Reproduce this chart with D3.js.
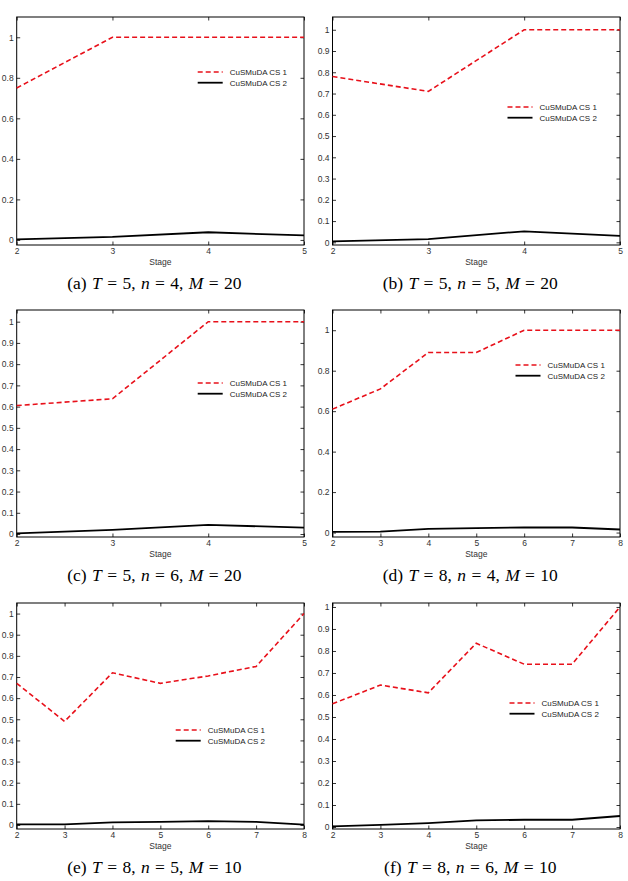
<!DOCTYPE html>
<html>
<head>
<meta charset="utf-8">
<script src="https://cdn.jsdelivr.net/npm/d3@7"></script>
<style>
  body { margin: 0; background: #fff; }
  .tick text { font-family: "Liberation Sans", Arial, sans-serif; font-size: 8.5px; fill: #333; }
  .caption { font-family: "Liberation Serif", "DejaVu Serif", serif; font-size: 17.5px; fill: #000; word-spacing: 1px; }
</style>
</head>
<body>
<div id="chart"></div>
<script>
// Data
const stages5 = [2, 3, 4, 5];
const stages8 = [2, 3, 4, 5, 6, 7, 8];
const seriesNames = ["CuSMuDA CS 1", "CuSMuDA CS 2"];

const cs1A = [0.75, 1, 1, 1];
const cs2A = [0.003, 0.015, 0.038, 0.022];
const cs1B = [0.78, 0.71, 1, 1];
const cs2B = [0.005, 0.015, 0.052, 0.03];
const cs1C = [0.605, 0.637, 1, 1];
const cs2C = [0.003, 0.02, 0.043, 0.03];
const cs1D = [0.61, 0.71, 0.89, 0.89, 1, 1, 1];
const cs2D = [0.003, 0.005, 0.018, 0.022, 0.025, 0.025, 0.015];
const cs1E = [0.67, 0.49, 0.72, 0.67, 0.705, 0.75, 1.0];
const cs2E = [0.003, 0.003, 0.012, 0.015, 0.018, 0.015, 0.002];
const cs1F = [0.56, 0.645, 0.61, 0.835, 0.74, 0.74, 1.0];
const cs2F = [0.003, 0.01, 0.018, 0.03, 0.033, 0.033, 0.05];

const yTicks02 = [0, 0.2, 0.4, 0.6, 0.8, 1];
const yTicks01 = [0, 0.1, 0.2, 0.3, 0.4, 0.5, 0.6, 0.7, 0.8, 0.9, 1];

const captionLetters = ["a", "b", "c", "d", "e", "f"];
const captionT = [5, 5, 5, 8, 8, 8];
const captionN = [4, 5, 6, 4, 5, 6];
const captionM = [20, 20, 20, 10, 10, 10];

const panels = [
  { stages: stages5, cs1: cs1A, cs2: cs2A, yTicks: yTicks02, yDomain: [-0.025, 1.1] },
  { stages: stages5, cs1: cs1B, cs2: cs2B, yTicks: yTicks01, yDomain: [-0.0125, 1.06] },
  { stages: stages5, cs1: cs1C, cs2: cs2C, yTicks: yTicks01, yDomain: [-0.014, 1.055] },
  { stages: stages8, cs1: cs1D, cs2: cs2D, yTicks: yTicks02, yDomain: [-0.022, 1.1] },
  { stages: stages8, cs1: cs1E, cs2: cs2E, yTicks: yTicks01, yDomain: [-0.019, 1.05] },
  { stages: stages8, cs1: cs1F, cs2: cs2F, yTicks: yTicks01, yDomain: [-0.009, 1.018] }
];

// layout
const width = 628;
const height = 881;
const colLeft = [16.7, 332.5];
const colRight = [304, 620];
const rowTop = [17, 310, 603];
const rowBottom = [245, 537, 829];
// legend anchor, relative to the plot's top-left corner
const legendPos = [[181, 55], [175, 90], [181, 73], [183, 55], [159, 127], [177, 100]];

const svg = d3.select("#chart")
  .append("svg")
  .attr("width", width)
  .attr("height", height)
  .style("background", "#fff");

panels.forEach(function(p, i) {
  const col = i % 2;
  const row = Math.floor(i / 2);
  const left = colLeft[col];
  const right = colRight[col];
  const top = rowTop[row];
  const bottom = rowBottom[row];

  const x = d3.scaleLinear()
    .domain([p.stages[0], p.stages[p.stages.length - 1]])
    .range([left, right]);
  const y = d3.scaleLinear()
    .domain(p.yDomain)
    .range([bottom, top]);

  const g = svg.append("g");

  // axes with inward ticks on all four sides
  g.append("g")
    .attr("transform", "translate(0," + bottom + ")")
    .call(d3.axisBottom(x).tickValues(p.stages).tickSizeInner(-3.5).tickSizeOuter(0).tickPadding(3).tickFormat(d3.format("d")))
    .call(s => s.select(".domain").remove());
  g.append("g")
    .attr("transform", "translate(0," + top + ")")
    .call(d3.axisTop(x).tickValues(p.stages).tickSizeInner(-3.5).tickSizeOuter(0).tickFormat(""))
    .call(s => s.select(".domain").remove());
  g.append("g")
    .attr("transform", "translate(" + left + ",0)")
    .call(d3.axisLeft(y).tickValues(p.yTicks).tickSizeInner(-3.5).tickSizeOuter(0).tickPadding(3).tickFormat(d3.format("~g")))
    .call(s => s.select(".domain").remove());
  g.append("g")
    .attr("transform", "translate(" + right + ",0)")
    .call(d3.axisRight(y).tickValues(p.yTicks).tickSizeInner(-3.5).tickSizeOuter(0).tickFormat(""))
    .call(s => s.select(".domain").remove());

  g.selectAll(".tick line").attr("stroke", "#000").attr("stroke-width", 0.8);

  // frame
  g.append("rect")
    .attr("x", left)
    .attr("y", top)
    .attr("width", right - left)
    .attr("height", bottom - top)
    .attr("fill", "none")
    .attr("stroke", "#000")
    .attr("stroke-width", 1);

  const line = d3.line()
    .x((d, k) => x(p.stages[k]))
    .y(d => y(d));

  g.append("path")
    .datum(p.cs2)
    .attr("d", line)
    .attr("fill", "none")
    .attr("stroke", "#000")
    .attr("stroke-width", 1.8);

  g.append("path")
    .datum(p.cs1)
    .attr("d", line)
    .attr("fill", "none")
    .attr("stroke", "#e8101a")
    .attr("stroke-width", 1.6)
    .attr("stroke-dasharray", "5,3");

  // x label
  g.append("text")
    .attr("x", (left + right) / 2)
    .attr("y", bottom + 17)
    .attr("dy", "0.35em")
    .attr("text-anchor", "middle")
    .style("font-family", "Liberation Sans, Arial, sans-serif")
    .style("font-size", "8.5px")
    .style("fill", "#333")
    .text("Stage");

  // legend
  const lx = left + legendPos[i][0];
  const ly = top + legendPos[i][1];
  const legend = g.append("g").attr("transform", "translate(" + lx + "," + ly + ")");
  const styles = [
    { stroke: "#e8101a", dash: "5,3", w: 1.6 },
    { stroke: "#000", dash: null, w: 1.8 }
  ];
  seriesNames.forEach(function(name, k) {
    legend.append("line")
      .attr("x1", 0).attr("x2", 25)
      .attr("y1", k * 10.7).attr("y2", k * 10.7)
      .attr("stroke", styles[k].stroke)
      .attr("stroke-width", styles[k].w)
      .attr("stroke-dasharray", styles[k].dash);
    legend.append("text")
      .attr("x", 32)
      .attr("y", k * 10.7)
      .attr("dy", "0.35em")
      .style("font-family", "Liberation Sans, Arial, sans-serif")
      .style("font-size", "8px")
      .style("fill", "#222")
      .text(name);
  });

  // caption
  const cap = g.append("text")
    .attr("class", "caption")
    .attr("x", (left + right) / 2 - 6)
    .attr("y", bottom + 38)
    .attr("dy", "0.35em")
    .attr("text-anchor", "middle");
  cap.append("tspan").text("(" + captionLetters[i] + ") ");
  cap.append("tspan").style("font-style", "italic").text("T");
  cap.append("tspan").text(" = " + captionT[i] + ", ");
  cap.append("tspan").style("font-style", "italic").text("n");
  cap.append("tspan").text(" = " + captionN[i] + ", ");
  cap.append("tspan").style("font-style", "italic").text("M");
  cap.append("tspan").text(" = " + captionM[i]);
});
</script>
</body>
</html>
